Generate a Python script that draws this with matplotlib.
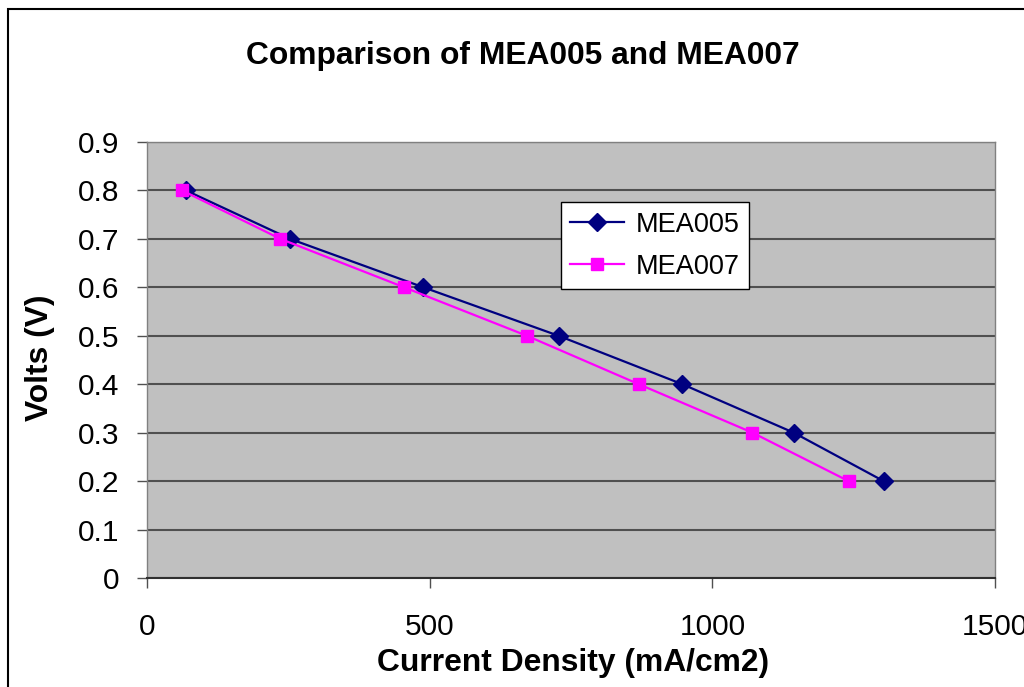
import matplotlib.pyplot as plt
from matplotlib.patches import Rectangle

plt.rcParams['font.family'] = ['Liberation Sans', 'DejaVu Sans']

# Werte
volts = [0.8, 0.7, 0.6, 0.5, 0.4, 0.3, 0.2]
mea005 = [69, 253, 489, 728, 947, 1144, 1303]
mea007 = [62, 236, 455, 672, 870, 1071, 1241]

fig = plt.figure(figsize=(10.24, 6.87), dpi=100)
ax = fig.add_axes([147 / 1024, 1 - 578 / 687, 848 / 1024, 436 / 687])
ax.set_facecolor('#C0C0C0')

ax.plot(mea005, volts, color='#000080', lw=1.6, marker='D', ms=9.5, label='MEA005', zorder=3)
ax.plot(mea007, volts, color='#FF00FF', lw=1.6, marker='s', ms=9, label='MEA007', zorder=3)

ax.set_xlim(0, 1500)
ax.set_ylim(0, 0.9)
ax.set_xticks([0, 500, 1000, 1500])
ax.set_yticks([0, 0.1, 0.2, 0.3, 0.4, 0.5, 0.6, 0.7, 0.8, 0.9])
ax.set_yticklabels(['0', '0.1', '0.2', '0.3', '0.4', '0.5', '0.6', '0.7', '0.8', '0.9'])
ax.yaxis.grid(True, color='#505050', lw=1.5)
ax.set_axisbelow(True)
ax.tick_params(axis='y', direction='out', length=7, width=1, color='#505050', labelsize=21.5, pad=13)
ax.tick_params(axis='x', direction='out', length=7, width=1, color='#505050', labelsize=21.5, pad=18)
for s in ['left', 'right', 'top']:
    ax.spines[s].set_color('#808080')
    ax.spines[s].set_linewidth(1)
ax.spines['bottom'].set_color('#303030')
ax.spines['bottom'].set_linewidth(1.5)

leg = ax.legend(loc='upper left', bbox_to_anchor=(0.488, 0.862), borderaxespad=0,
                fancybox=False, framealpha=1, edgecolor='black', fontsize=19.5,
                handlelength=2.0, borderpad=0.35, labelspacing=0.6, handletextpad=0.4)
leg.get_frame().set_linewidth(1)

fig.text(523 / 1024, 1 - 56 / 687, 'Comparison of MEA005 and MEA007', ha='center', va='center',
         fontsize=22.9, fontweight='bold')
fig.text(573 / 1024, 1 - 663 / 687, 'Current Density (mA/cm2)', ha='center', va='center',
         fontsize=22.9, fontweight='bold')
fig.text(40 / 1024, 1 - 358 / 687, 'Volts (V)', ha='center', va='center', rotation=90,
         fontsize=22.9, fontweight='bold')

# Rahmen um das Diagramm
fig.patches.append(Rectangle((8 / 1024, -0.1), 1.2, 1.1 - 9 / 687, transform=fig.transFigure,
                             fill=False, edgecolor='black', lw=1.5, clip_on=False))

fig.savefig('out.png', dpi=100)
